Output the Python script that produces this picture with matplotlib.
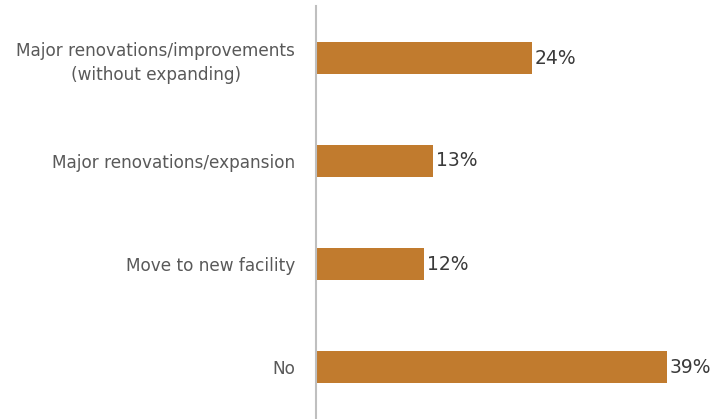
import matplotlib
matplotlib.use("Agg")
import matplotlib.pyplot as plt

categories = ["Major renovations/improvements\n(without expanding)",
              "Major renovations/expansion",
              "Move to new facility",
              "No"]
values = [24, 13, 12, 39]

bar_color = "#C17B2E"

fig = plt.figure(figsize=(7.12, 4.19), dpi=100)
ax = fig.add_axes([316 / 712, 0.5 / 419, 396 / 712, 412 / 419])

ypos = range(len(categories))
ax.barh(ypos, values, height=0.32, color=bar_color)
ax.set_ylim(len(categories) - 0.5, -0.5)
ax.set_xlim(0, 44)

for y, v in zip(ypos, values):
    ax.text(v + 0.3, y, f"{v}%", va="center", ha="left",
            fontsize=13.5, color="#3A3A3A", family="DejaVu Sans")

ax.set_yticks(list(ypos))
ax.set_yticklabels(categories, fontsize=12.2, color="#595959",
                   family="DejaVu Sans", linespacing=1.45,
                   multialignment="center")
ax.tick_params(axis="y", length=0, pad=15)
ax.set_xticks([])

for side in ["top", "right", "bottom"]:
    ax.spines[side].set_visible(False)
ax.spines["left"].set_color("#BFBFBF")
ax.spines["left"].set_linewidth(1.5)

fig.savefig("out.png", dpi=100)
